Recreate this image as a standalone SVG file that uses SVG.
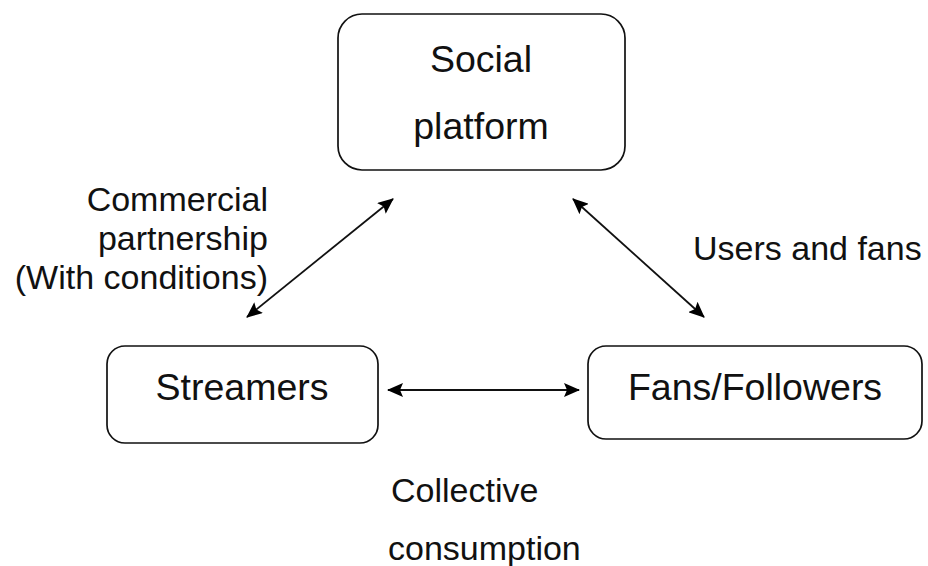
<svg xmlns="http://www.w3.org/2000/svg" width="928" height="566" viewBox="0 0 928 566">
<defs>
<marker id="ah" viewBox="0 0 16 14" refX="15" refY="7" markerWidth="16" markerHeight="14" markerUnits="userSpaceOnUse" orient="auto-start-reverse">
<path d="M0,0 L16,7 L0,14 L3,7 z" fill="#000"/>
</marker>
<style>
.box{fill:#fff;stroke:#111;stroke-width:1.7}
.nt{font-family:"Liberation Sans",Arial,sans-serif;font-size:37.5px;fill:#111;text-anchor:middle}
.lt{font-family:"Liberation Sans",Arial,sans-serif;font-size:34px;fill:#111}
.edge{stroke:#111;stroke-width:1.8;fill:none;marker-start:url(#ah);marker-end:url(#ah)}
</style>
</defs>
<rect width="928" height="566" fill="#fff"/>
<g id="social">
<rect class="box" x="338" y="14" width="287" height="156" rx="24"/>
<text class="nt" x="481" y="72">Social</text>
<text class="nt" x="481" y="139">platform</text>
</g>
<g id="streamers">
<rect class="box" x="107" y="346" width="271" height="97" rx="18"/>
<text class="nt" x="242" y="400">Streamers</text>
</g>
<g id="fans">
<rect class="box" x="588" y="346" width="334" height="93" rx="18"/>
<text class="nt" x="755" y="400">Fans/Followers</text>
</g>
<g id="connectors">
<line class="edge" x1="393" y1="199" x2="247" y2="317"/>
<line class="edge" x1="573" y1="199" x2="704" y2="317"/>
<line class="edge" x1="388" y1="390" x2="579" y2="390"/>
</g>
<g id="labels">
<text class="lt" x="268" y="211" text-anchor="end">Commercial</text>
<text class="lt" x="268" y="250" text-anchor="end">partnership</text>
<text class="lt" x="268" y="289" text-anchor="end">(With conditions)</text>
<text class="lt" x="693" y="260">Users and fans</text>
<text class="lt" x="391" y="502">Collective</text>
<text class="lt" x="388" y="560">consumption</text>
</g>
</svg>
